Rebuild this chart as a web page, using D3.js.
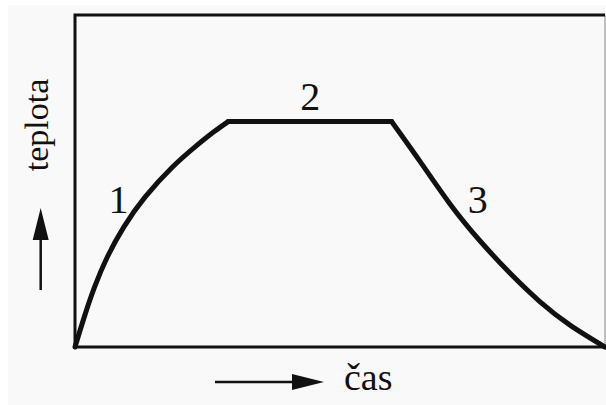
<!DOCTYPE html>
<html>
<head>
<meta charset="utf-8">
<script src="https://cdn.jsdelivr.net/npm/d3@7"></script>
<style>
  body { margin: 0; background: #fff; }
</style>
</head>
<body>
<svg id="chart" width="606" height="405"></svg>
<script>
// heating, holding, cooling (time and temperature in arbitrary units 0-100)
const heatTime = [0, 1.74, 3.7, 6.1, 9.2, 13.25, 18.4, 22.6, 26.2, 28.9];
const heatTemp = [0, 9.0, 18.1, 27.1, 36.1, 45.2, 54.2, 60.2, 64.8, 67.9];
const holdTime = [28.9, 59.75];
const holdTemp = [67.9, 67.9];
const coolTime = [59.75, 65.1, 70.75, 76.4, 82.1, 87.7, 93.4, 100];
const coolTemp = [67.9, 55.9, 43.1, 32.0, 22.2, 13.7, 6.6, 0];
const segLabels = ['1', '2', '3'];
const labelTime = [8.2, 44.4, 76];
const labelTemp = [40.5, 71.4, 40.5];
const xAxisLabel = 'čas';
const yAxisLabel = 'teplota';

const serif = '"Liberation Serif", "DejaVu Serif", "Times New Roman", serif';

const svg = d3.select('#chart');
const width = +svg.attr('width');
const height = +svg.attr('height');
const margin = {top: 15, right: 1, left: 75, bottom: 58};

svg.append('rect')
    .attr('x', 8).attr('y', 5)
    .attr('width', width - 8).attr('height', height - 5)
    .attr('fill', '#f9f9f9');

const xScale = d3.scaleLinear()
    .domain([0, 100])
    .range([margin.left, width - margin.right]);
const yScale = d3.scaleLinear()
    .domain([0, 100])
    .range([height - margin.bottom, margin.top]);

// frame
const x0 = xScale(0), x1 = xScale(100), y0 = yScale(0), y1 = yScale(100);
svg.append('line').attr('x1', x1).attr('x2', x1).attr('y1', y1).attr('y2', y0)
    .attr('stroke', '#999').attr('stroke-width', 1.2);
svg.append('path')
    .attr('d', `M${x1},${y1}H${x0}V${y0}H${x1}`)
    .attr('fill', 'none')
    .attr('stroke', '#111')
    .attr('stroke-width', 3);

const segments = [
  d3.zip(heatTime, heatTemp),
  d3.zip(holdTime, holdTemp),
  d3.zip(coolTime, coolTemp)
];

const line = d3.line()
    .x(d => xScale(d[0]))
    .y(d => yScale(d[1]))
    .curve(d3.curveNatural);

svg.selectAll('path.seg').data(segments)
  .enter().append('path')
    .attr('class', 'seg')
    .attr('d', line)
    .attr('fill', 'none')
    .attr('stroke', '#111')
    .attr('stroke-width', 5)
    .attr('stroke-linejoin', 'round')
    .attr('stroke-linecap', 'round');

svg.selectAll('text.seglabel').data(segLabels)
  .enter().append('text')
    .attr('class', 'seglabel')
    .attr('x', (d, i) => xScale(labelTime[i]))
    .attr('y', (d, i) => yScale(labelTemp[i]))
    .attr('text-anchor', 'middle')
    .style('font-family', serif)
    .style('font-size', '40px')
    .style('fill', '#111')
    .text(d => d);

// axis arrows
const arrow = (g, len) => {
  g.append('line').attr('x1', 0).attr('x2', len - 20).attr('y1', 0).attr('y2', 0)
      .attr('stroke', '#111').attr('stroke-width', 2.5);
  g.append('path').attr('d', `M${len},0L${len - 32},-8L${len - 32},8Z`).attr('fill', '#111');
};
arrow(svg.append('g').attr('transform', 'translate(215,382)'), 109);
arrow(svg.append('g').attr('transform', 'translate(40.7,290) rotate(-90)'), 82);

svg.append('text')
    .attr('x', 344).attr('y', 390)
    .style('font-family', serif)
    .style('font-size', '38px')
    .style('fill', '#111')
    .text(xAxisLabel);

svg.append('text')
    .attr('transform', 'translate(48,125) rotate(-90)')
    .attr('text-anchor', 'middle')
    .style('font-family', serif)
    .style('font-size', '34px')
    .style('fill', '#111')
    .text(yAxisLabel);
</script>
</body>
</html>
